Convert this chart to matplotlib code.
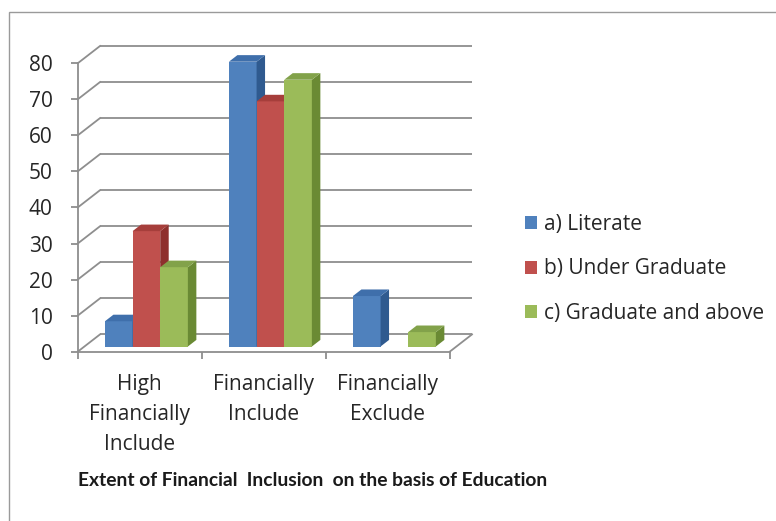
import matplotlib
matplotlib.use("Agg")
import matplotlib.pyplot as plt
from matplotlib.patches import Polygon, Patch, Rectangle

# ---- data ----
categories = ["High\nFinancially\nInclude", "Financially\nInclude", "Financially\nExclude"]
series_names = ["a) Literate", "b) Under Graduate", "c) Graduate and above"]
literate = [7, 79, 14]
under_graduate = [32, 68, 0]
graduate_above = [22, 74, 4]
y_ticks = [0, 10, 20, 30, 40, 50, 60, 70, 80]
title = "Extent of Financial  Inclusion  on the basis of Education"

series = [literate, under_graduate, graduate_above]
front_colors = ["#4F81BD", "#C0504D", "#9BBB59"]
side_colors = ["#2F5A8F", "#8E302D", "#6A8A34"]
top_colors = ["#3F6FAB", "#A63E3B", "#82A24A"]

plt.rcParams["font.family"] = ["Open Sans", "DejaVu Sans"]

W, H = 776, 521
fig = plt.figure(figsize=(W / 100, H / 100), dpi=100)

# pseudo-3D geometry (depth offset of the back wall in data units)
DX, DY = 0.18, 4.8
n_cat = len(categories)
ymax = max(y_ticks)

# axes placed so that the front plane runs 0..3 categories, 0..80 values
x0_px, y0_px = 77.7, 351.7
px_per_cat, px_per_unit = 124.0, 3.605
ax_w = (n_cat + DX) * px_per_cat
ax_h = (ymax + DY) * px_per_unit
ax = fig.add_axes([x0_px / W, (H - y0_px) / H, ax_w / W, ax_h / H])
ax.set_xlim(0, n_cat + DX)
ax.set_ylim(0, ymax + DY)

grid_c = "#8E8E8E"
glw = 1.3
txt_c = "#262626"

# back wall gridlines and left wall diagonals
for t in y_ticks:
    ax.plot([DX, n_cat + DX], [t + DY, t + DY], color=grid_c, lw=glw, zorder=1,
            clip_on=False, solid_capstyle="butt")
    ax.plot([0, DX], [t, t + DY], color=grid_c, lw=glw, zorder=1, clip_on=False)
# floor right edge
ax.plot([n_cat, n_cat + DX], [0, DY], color=grid_c, lw=glw, zorder=1, clip_on=False)

# spines as front axes
for s in ["top", "right"]:
    ax.spines[s].set_visible(False)
ax.spines["left"].set_bounds(0, ymax)
ax.spines["bottom"].set_bounds(0, n_cat)
for s in ["left", "bottom"]:
    ax.spines[s].set_color(grid_c)
    ax.spines[s].set_linewidth(glw)
    ax.spines[s].set_zorder(2)

ax.set_yticks(y_ticks)
ax.set_yticklabels([str(t) for t in y_ticks])
ax.tick_params(axis="y", length=5, width=glw, color=grid_c, pad=13, labelsize=15,
               labelcolor=txt_c)

centers = [i + 0.5 for i in range(n_cat)]
ax.set_xticks(centers)
ax.set_xticklabels(categories, linespacing=1.55)
ax.set_xticks(list(range(n_cat + 1)), minor=True)
ax.tick_params(axis="x", which="major", length=0, pad=16, labelsize=15,
               labelcolor=txt_c)
ax.tick_params(axis="x", which="minor", length=5, width=glw, color=grid_c)
ax.set_facecolor("none")

# bars with side and top faces
bar_w = 0.223
f0, f1 = 0.30, 0.68
n_s = len(series)
z = 3
for ci, c in enumerate(centers):
    left0 = c - bar_w * n_s / 2
    for si, vals in enumerate(series):
        v = vals[ci]
        l = left0 + si * bar_w + f0 * DX
        b = f0 * DY
        ax.bar(l, v, width=bar_w, bottom=b, align="edge", color=front_colors[si],
               edgecolor="none", zorder=z)
        if v > 0:
            r = l + bar_w
            ddx, ddy = (f1 - f0) * DX, (f1 - f0) * DY
            side = Polygon([(r, b), (r + ddx, b + ddy), (r + ddx, b + v + ddy), (r, b + v)],
                           closed=True, facecolor=side_colors[si], edgecolor="none",
                           zorder=z)
            top = Polygon([(l, b + v), (r, b + v), (r + ddx, b + v + ddy), (l + ddx, b + v + ddy)],
                          closed=True, facecolor=top_colors[si], edgecolor="none", zorder=z)
            ax.add_patch(side)
            ax.add_patch(top)
        z += 1

# legend
handles = [Patch(facecolor=c, edgecolor="none") for c in front_colors]
fig.legend(handles, series_names, loc="center left",
           bbox_to_anchor=(506 / W, 1 - 269 / H), frameon=False, fontsize=15,
           handlelength=0.6, handleheight=0.6, handletextpad=0.3,
           labelspacing=1.12, labelcolor=txt_c)

# title below the chart
fig.text(78 / W, 1 - 480 / H, title, ha="left", va="center", fontsize=13.85,
         fontweight="bold", family=["Lato", "DejaVu Sans"], color="#1a1a1a")

# chart frame
fig.add_artist(Rectangle((9 / W, -0.1), 2, 1 - 12 / H + 0.1, transform=fig.transFigure,
                         fill=False, edgecolor="#9a9a9a", lw=1.0))

fig.savefig("out.png", dpi=100, facecolor="white")
